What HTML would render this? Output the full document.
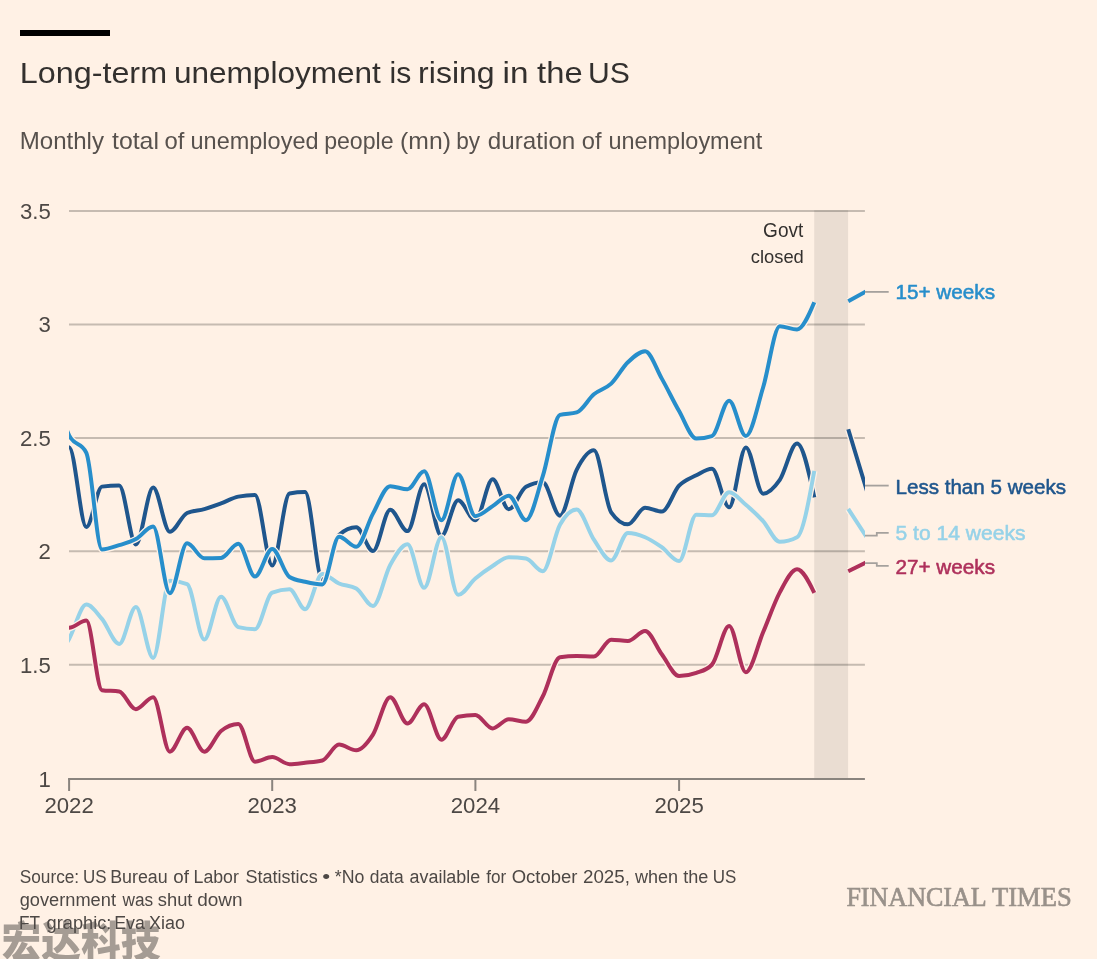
<!DOCTYPE html>
<html lang="en"><head><meta charset="utf-8"><title>Long-term unemployment is rising in the US</title>
<style>
html,body{margin:0;padding:0;background:#fff1e5;}
body{width:1097px;height:959px;overflow:hidden;position:relative;font-family:"Liberation Sans","Noto Sans CJK SC",sans-serif;}
svg{position:absolute;left:0;top:0;display:block;}
svg text{font-family:"Liberation Sans","Noto Sans CJK SC",sans-serif;}
.wm{font-family:"Noto Sans CJK SC","WenQuanYi Zen Hei",sans-serif;}
text.ft{font-family:"Liberation Serif",serif;}
</style></head><body>
<svg width="1097" height="959" viewBox="0 0 1097 959">
<rect width="1097" height="959" fill="#fff1e5"/>
<rect x="20" y="30" width="90" height="6" fill="#000"/>
<text font-size="29.5" fill="#33302e" y="82.6"><tspan x="19.86" textLength="147.17" lengthAdjust="spacingAndGlyphs">Long-term</tspan> <tspan x="173.96" textLength="206.91" lengthAdjust="spacingAndGlyphs">unemployment</tspan> <tspan x="389.44" textLength="21.76" lengthAdjust="spacingAndGlyphs">is</tspan> <tspan x="418.13" textLength="76.54" lengthAdjust="spacingAndGlyphs">rising</tspan> <tspan x="502.57" textLength="25.92" lengthAdjust="spacingAndGlyphs">in</tspan> <tspan x="537.14" textLength="45.56" lengthAdjust="spacingAndGlyphs">the</tspan> <tspan x="588.11" textLength="41.84" lengthAdjust="spacingAndGlyphs">US</tspan></text>
<text font-size="23.8" fill="#57514d" y="149.2"><tspan x="19.78" textLength="84.2" lengthAdjust="spacingAndGlyphs">Monthly</tspan> <tspan x="112.04" textLength="46.91" lengthAdjust="spacingAndGlyphs">total</tspan> <tspan x="164.5" textLength="19.86" lengthAdjust="spacingAndGlyphs">of</tspan> <tspan x="190.52" textLength="128.02" lengthAdjust="spacingAndGlyphs">unemployed</tspan> <tspan x="324.14" textLength="69.5" lengthAdjust="spacingAndGlyphs">people</tspan> <tspan x="400.14" textLength="50.84" lengthAdjust="spacingAndGlyphs">(mn)</tspan> <tspan x="456.34" textLength="23.83" lengthAdjust="spacingAndGlyphs">by</tspan> <tspan x="487.88" textLength="87.44" lengthAdjust="spacingAndGlyphs">duration</tspan> <tspan x="581.81" textLength="19.75" lengthAdjust="spacingAndGlyphs">of</tspan> <tspan x="608.42" textLength="153.87" lengthAdjust="spacingAndGlyphs">unemployment</tspan></text>
<g><line x1="69" x2="864.9" y1="211.0" y2="211.0" stroke="#c6bbb1" stroke-width="2"/>
<line x1="69" x2="864.9" y1="324.4" y2="324.4" stroke="#c6bbb1" stroke-width="2"/>
<line x1="69" x2="864.9" y1="437.9" y2="437.9" stroke="#c6bbb1" stroke-width="2"/>
<line x1="69" x2="864.9" y1="551.3" y2="551.3" stroke="#c6bbb1" stroke-width="2"/>
<line x1="69" x2="864.9" y1="664.8" y2="664.8" stroke="#c6bbb1" stroke-width="2"/>
</g>
<rect x="814.2" y="210.2" width="33.9" height="568.5" fill="#000" fill-opacity="0.082"/>
<line x1="68.1" x2="864.9" y1="779.1" y2="779.1" stroke="#8a847e" stroke-width="2"/>
<line x1="69.1" x2="69.1" y1="778.5" y2="791" stroke="#8a847e" stroke-width="2"/>
<text x="69.1" y="813.0" font-size="22.2" fill="#4d4845" text-anchor="middle" font-weight="400">2022</text>
<line x1="272.2" x2="272.2" y1="778.5" y2="791" stroke="#8a847e" stroke-width="2"/>
<text x="272.2" y="813.0" font-size="22.2" fill="#4d4845" text-anchor="middle" font-weight="400">2023</text>
<line x1="475.4" x2="475.4" y1="778.5" y2="791" stroke="#8a847e" stroke-width="2"/>
<text x="475.4" y="813.0" font-size="22.2" fill="#4d4845" text-anchor="middle" font-weight="400">2024</text>
<line x1="679.1" x2="679.1" y1="778.5" y2="791" stroke="#8a847e" stroke-width="2"/>
<text x="679.1" y="813.0" font-size="22.2" fill="#4d4845" text-anchor="middle" font-weight="400">2025</text>
<text x="50.8" y="218.95000000000005" font-size="22.2" fill="#4d4845" text-anchor="end" font-weight="400">3.5</text>
<text x="50.8" y="332.40000000000003" font-size="22.2" fill="#4d4845" text-anchor="end" font-weight="400">3</text>
<text x="50.8" y="445.85" font-size="22.2" fill="#4d4845" text-anchor="end" font-weight="400">2.5</text>
<text x="50.8" y="559.3000000000001" font-size="22.2" fill="#4d4845" text-anchor="end" font-weight="400">2</text>
<text x="50.8" y="672.75" font-size="22.2" fill="#4d4845" text-anchor="end" font-weight="400">1.5</text>
<text x="50.8" y="787.2" font-size="22.2" fill="#4d4845" text-anchor="end" font-weight="400">1</text>
<text font-size="19.3" fill="#33302e" y="236.6"><tspan x="763.11" textLength="40.2" lengthAdjust="spacingAndGlyphs">Govt</tspan></text>
<text font-size="18.5" fill="#33302e" y="262.6"><tspan x="750.76" textLength="53.07" lengthAdjust="spacingAndGlyphs">closed</tspan></text>
<g fill="none" stroke="#a5a19d" stroke-width="1.8">
<path d="M864.9,291.9H888.7"/>
<path d="M864.9,485.6H888.7"/>
<path d="M864.9,535.6H876.8V532.8H888.7"/>
<path d="M864.9,563.2H876.8V565.8H888.7"/>
</g>
<clipPath id="cp"><rect x="69" y="150" width="795.9" height="700"/></clipPath>
<g clip-path="url(#cp)">
<path d="M51.85,551.30C57.60,499.23,63.35,447.15,69.10,447.15C74.85,447.15,80.60,527.02,86.35,527.02C91.55,527.02,96.74,487.32,101.94,486.63C107.69,485.88,113.44,485.50,119.19,485.50C124.75,485.50,130.32,544.49,135.88,544.49C141.63,544.49,147.39,487.54,153.14,487.54C158.70,487.54,164.27,531.79,169.83,531.79C175.58,531.79,181.33,515.53,187.08,512.95C192.84,510.38,198.59,510.72,204.34,509.10C209.90,507.52,215.47,505.46,221.03,503.42C226.78,501.32,232.53,497.71,238.29,496.62C243.85,495.56,249.42,495.03,254.98,495.03C260.73,495.03,266.48,565.48,272.23,565.48C277.98,565.48,283.74,494.45,289.49,493.44C294.68,492.53,299.87,492.08,305.07,492.08C310.82,492.08,316.57,579.44,322.32,579.44C327.89,579.44,333.45,539.94,339.02,534.96C344.77,529.82,350.52,527.25,356.27,527.25C361.83,527.25,367.40,551.07,372.97,551.07C378.72,551.07,384.47,509.78,390.22,509.78C395.97,509.78,401.72,531.11,407.47,531.11C413.04,531.11,418.60,484.36,424.17,484.36C429.92,484.36,435.67,536.10,441.42,536.10C446.98,536.10,452.55,500.25,458.11,500.25C463.87,500.25,469.62,520.21,475.37,520.21C481.12,520.21,486.87,479.37,492.62,479.37C498.00,479.37,503.38,509.32,508.76,509.32C514.51,509.32,520.26,489.99,526.01,486.86C531.58,483.84,537.14,482.32,542.71,482.32C548.46,482.32,554.21,515.68,559.96,515.68C565.52,515.68,571.09,480.70,576.66,469.84C582.41,458.62,588.16,450.33,593.91,450.33C599.66,450.33,605.41,503.99,611.16,512.27C616.73,520.29,622.29,524.30,627.86,524.30C633.61,524.30,639.36,507.74,645.11,507.74C650.67,507.74,656.24,511.59,661.80,511.59C667.56,511.59,673.31,491.78,679.06,485.73C684.81,479.68,690.56,478.22,696.31,475.29C701.50,472.64,706.70,468.71,711.89,468.71C717.64,468.71,723.39,507.28,729.14,507.28C734.71,507.28,740.28,447.38,745.84,447.38C751.59,447.38,757.34,493.67,763.09,493.67C768.66,493.67,774.22,487.93,779.79,479.83C785.54,471.45,791.29,443.52,797.04,443.52C802.79,443.52,808.54,470.41,814.29,497.30M848.24,429.23L867.94,494.27" fill="none" stroke="#fff1e5" stroke-width="6.5" stroke-linejoin="round"/>
<path d="M51.85,551.30C57.60,499.23,63.35,447.15,69.10,447.15C74.85,447.15,80.60,527.02,86.35,527.02C91.55,527.02,96.74,487.32,101.94,486.63C107.69,485.88,113.44,485.50,119.19,485.50C124.75,485.50,130.32,544.49,135.88,544.49C141.63,544.49,147.39,487.54,153.14,487.54C158.70,487.54,164.27,531.79,169.83,531.79C175.58,531.79,181.33,515.53,187.08,512.95C192.84,510.38,198.59,510.72,204.34,509.10C209.90,507.52,215.47,505.46,221.03,503.42C226.78,501.32,232.53,497.71,238.29,496.62C243.85,495.56,249.42,495.03,254.98,495.03C260.73,495.03,266.48,565.48,272.23,565.48C277.98,565.48,283.74,494.45,289.49,493.44C294.68,492.53,299.87,492.08,305.07,492.08C310.82,492.08,316.57,579.44,322.32,579.44C327.89,579.44,333.45,539.94,339.02,534.96C344.77,529.82,350.52,527.25,356.27,527.25C361.83,527.25,367.40,551.07,372.97,551.07C378.72,551.07,384.47,509.78,390.22,509.78C395.97,509.78,401.72,531.11,407.47,531.11C413.04,531.11,418.60,484.36,424.17,484.36C429.92,484.36,435.67,536.10,441.42,536.10C446.98,536.10,452.55,500.25,458.11,500.25C463.87,500.25,469.62,520.21,475.37,520.21C481.12,520.21,486.87,479.37,492.62,479.37C498.00,479.37,503.38,509.32,508.76,509.32C514.51,509.32,520.26,489.99,526.01,486.86C531.58,483.84,537.14,482.32,542.71,482.32C548.46,482.32,554.21,515.68,559.96,515.68C565.52,515.68,571.09,480.70,576.66,469.84C582.41,458.62,588.16,450.33,593.91,450.33C599.66,450.33,605.41,503.99,611.16,512.27C616.73,520.29,622.29,524.30,627.86,524.30C633.61,524.30,639.36,507.74,645.11,507.74C650.67,507.74,656.24,511.59,661.80,511.59C667.56,511.59,673.31,491.78,679.06,485.73C684.81,479.68,690.56,478.22,696.31,475.29C701.50,472.64,706.70,468.71,711.89,468.71C717.64,468.71,723.39,507.28,729.14,507.28C734.71,507.28,740.28,447.38,745.84,447.38C751.59,447.38,757.34,493.67,763.09,493.67C768.66,493.67,774.22,487.93,779.79,479.83C785.54,471.45,791.29,443.52,797.04,443.52C802.79,443.52,808.54,470.41,814.29,497.30M848.24,429.23L867.94,494.27" fill="none" stroke="#1f568d" stroke-width="4" stroke-linejoin="round"/>
<path d="M51.85,664.75C57.60,656.83,63.35,648.90,69.10,638.88C74.85,628.86,80.60,604.62,86.35,604.62C91.55,604.62,96.74,612.85,101.94,618.92C107.69,625.64,113.44,643.88,119.19,643.88C124.75,643.88,130.32,607.12,135.88,607.12C141.63,607.12,147.39,657.94,153.14,657.94C158.70,657.94,164.27,580.80,169.83,580.80C175.58,580.80,181.33,581.93,187.08,584.20C192.84,586.47,198.59,639.56,204.34,639.56C209.90,639.56,215.47,596.68,221.03,596.68C226.78,596.68,232.53,625.68,238.29,627.08C243.85,628.45,249.42,629.13,254.98,629.13C260.73,629.13,266.48,594.86,272.23,592.60C277.98,590.33,283.74,589.19,289.49,589.19C294.68,589.19,299.87,609.16,305.07,609.16C310.82,609.16,316.57,573.99,322.32,573.99C327.89,573.99,333.45,581.11,339.02,583.52C344.77,586.01,350.52,585.18,356.27,588.51C361.83,591.73,367.40,605.98,372.97,605.98C378.72,605.98,384.47,575.20,390.22,564.91C395.97,554.63,401.72,544.27,407.47,544.27C413.04,544.27,418.60,587.83,424.17,587.83C429.92,587.83,435.67,537.23,441.42,537.23C446.98,537.23,452.55,594.86,458.11,594.86C463.87,594.86,469.62,583.33,475.37,578.53C481.12,573.73,486.87,569.69,492.62,566.05C498.00,562.64,503.38,557.20,508.76,557.20C514.51,557.20,520.26,557.65,526.01,558.56C531.58,559.44,537.14,571.27,542.71,571.27C548.46,571.27,554.21,535.04,559.96,524.75C565.52,514.80,571.09,509.55,576.66,509.55C582.41,509.55,588.16,531.26,593.91,539.73C599.66,548.20,605.41,560.38,611.16,560.38C616.73,560.38,622.29,532.92,627.86,532.92C633.61,532.92,639.36,534.78,645.11,537.23C650.67,539.61,656.24,543.33,661.80,547.22C667.56,551.23,673.31,561.06,679.06,561.06C684.81,561.06,690.56,514.77,696.31,514.77C701.50,514.77,706.70,515.22,711.89,515.22C717.64,515.22,723.39,492.31,729.14,492.31C734.71,492.31,740.28,500.08,745.84,504.79C751.59,509.65,757.34,514.83,763.09,521.12C768.66,527.21,774.22,541.77,779.79,541.77C785.54,541.77,791.29,540.26,797.04,537.23C802.79,534.21,808.54,502.59,814.29,470.98M848.24,508.87L867.94,539.12" fill="none" stroke="#fff1e5" stroke-width="6.5" stroke-linejoin="round"/>
<path d="M51.85,664.75C57.60,656.83,63.35,648.90,69.10,638.88C74.85,628.86,80.60,604.62,86.35,604.62C91.55,604.62,96.74,612.85,101.94,618.92C107.69,625.64,113.44,643.88,119.19,643.88C124.75,643.88,130.32,607.12,135.88,607.12C141.63,607.12,147.39,657.94,153.14,657.94C158.70,657.94,164.27,580.80,169.83,580.80C175.58,580.80,181.33,581.93,187.08,584.20C192.84,586.47,198.59,639.56,204.34,639.56C209.90,639.56,215.47,596.68,221.03,596.68C226.78,596.68,232.53,625.68,238.29,627.08C243.85,628.45,249.42,629.13,254.98,629.13C260.73,629.13,266.48,594.86,272.23,592.60C277.98,590.33,283.74,589.19,289.49,589.19C294.68,589.19,299.87,609.16,305.07,609.16C310.82,609.16,316.57,573.99,322.32,573.99C327.89,573.99,333.45,581.11,339.02,583.52C344.77,586.01,350.52,585.18,356.27,588.51C361.83,591.73,367.40,605.98,372.97,605.98C378.72,605.98,384.47,575.20,390.22,564.91C395.97,554.63,401.72,544.27,407.47,544.27C413.04,544.27,418.60,587.83,424.17,587.83C429.92,587.83,435.67,537.23,441.42,537.23C446.98,537.23,452.55,594.86,458.11,594.86C463.87,594.86,469.62,583.33,475.37,578.53C481.12,573.73,486.87,569.69,492.62,566.05C498.00,562.64,503.38,557.20,508.76,557.20C514.51,557.20,520.26,557.65,526.01,558.56C531.58,559.44,537.14,571.27,542.71,571.27C548.46,571.27,554.21,535.04,559.96,524.75C565.52,514.80,571.09,509.55,576.66,509.55C582.41,509.55,588.16,531.26,593.91,539.73C599.66,548.20,605.41,560.38,611.16,560.38C616.73,560.38,622.29,532.92,627.86,532.92C633.61,532.92,639.36,534.78,645.11,537.23C650.67,539.61,656.24,543.33,661.80,547.22C667.56,551.23,673.31,561.06,679.06,561.06C684.81,561.06,690.56,514.77,696.31,514.77C701.50,514.77,706.70,515.22,711.89,515.22C717.64,515.22,723.39,492.31,729.14,492.31C734.71,492.31,740.28,500.08,745.84,504.79C751.59,509.65,757.34,514.83,763.09,521.12C768.66,527.21,774.22,541.77,779.79,541.77C785.54,541.77,791.29,540.26,797.04,537.23C802.79,534.21,808.54,502.59,814.29,470.98M848.24,508.87L867.94,539.12" fill="none" stroke="#96d2e8" stroke-width="4" stroke-linejoin="round"/>
<path d="M51.85,378.86C57.60,401.28,63.35,423.71,69.10,435.35C74.85,447.00,80.60,441.18,86.35,452.83C91.55,463.35,96.74,549.48,101.94,549.48C107.69,549.48,113.44,546.95,119.19,545.17C124.75,543.45,130.32,542.07,135.88,539.05C141.63,535.93,147.39,526.57,153.14,526.57C158.70,526.57,164.27,593.28,169.83,593.28C175.58,593.28,181.33,543.36,187.08,543.36C192.84,543.36,198.59,558.33,204.34,558.33C209.90,558.33,215.47,558.18,221.03,557.88C226.78,557.57,232.53,543.81,238.29,543.81C243.85,543.81,249.42,576.49,254.98,576.49C260.73,576.49,266.48,549.03,272.23,549.03C277.98,549.03,283.74,573.42,289.49,576.94C294.68,580.12,299.87,580.48,305.07,581.70C310.82,583.06,316.57,584.43,322.32,584.43C327.89,584.43,333.45,536.78,339.02,536.78C344.77,536.78,350.52,546.76,356.27,546.76C361.83,546.76,367.40,523.60,372.97,513.63C378.72,503.33,384.47,486.18,390.22,486.18C395.97,486.18,401.72,489.36,407.47,489.36C413.04,489.36,418.60,471.20,424.17,471.20C429.92,471.20,435.67,520.21,441.42,520.21C446.98,520.21,452.55,474.15,458.11,474.15C463.87,474.15,469.62,516.13,475.37,516.13C481.12,516.13,486.87,509.68,492.62,506.15C498.00,502.84,503.38,495.71,508.76,495.71C514.51,495.71,520.26,520.21,526.01,520.21C531.58,520.21,537.14,493.60,542.71,476.42C548.46,458.68,554.21,416.65,559.96,414.93C565.52,413.27,571.09,414.10,576.66,412.44C582.41,410.72,588.16,399.09,593.91,394.29C599.66,389.48,605.41,389.10,611.16,383.62C616.73,378.32,622.29,367.67,627.86,362.29C633.61,356.74,639.36,351.17,645.11,351.17C650.67,351.17,656.24,368.83,661.80,378.63C667.56,388.75,673.31,401.09,679.06,411.08C684.81,421.06,690.56,438.53,696.31,438.53C701.50,438.53,706.70,437.70,711.89,436.03C717.64,434.19,723.39,400.64,729.14,400.64C734.71,400.64,740.28,436.03,745.84,436.03C751.59,436.03,757.34,406.16,763.09,387.48C768.66,369.40,774.22,326.22,779.79,326.22C785.54,326.22,791.29,329.39,797.04,329.39C802.79,329.39,808.54,315.78,814.29,302.16M848.24,301.26L867.94,290.28" fill="none" stroke="#fff1e5" stroke-width="6.5" stroke-linejoin="round"/>
<path d="M51.85,378.86C57.60,401.28,63.35,423.71,69.10,435.35C74.85,447.00,80.60,441.18,86.35,452.83C91.55,463.35,96.74,549.48,101.94,549.48C107.69,549.48,113.44,546.95,119.19,545.17C124.75,543.45,130.32,542.07,135.88,539.05C141.63,535.93,147.39,526.57,153.14,526.57C158.70,526.57,164.27,593.28,169.83,593.28C175.58,593.28,181.33,543.36,187.08,543.36C192.84,543.36,198.59,558.33,204.34,558.33C209.90,558.33,215.47,558.18,221.03,557.88C226.78,557.57,232.53,543.81,238.29,543.81C243.85,543.81,249.42,576.49,254.98,576.49C260.73,576.49,266.48,549.03,272.23,549.03C277.98,549.03,283.74,573.42,289.49,576.94C294.68,580.12,299.87,580.48,305.07,581.70C310.82,583.06,316.57,584.43,322.32,584.43C327.89,584.43,333.45,536.78,339.02,536.78C344.77,536.78,350.52,546.76,356.27,546.76C361.83,546.76,367.40,523.60,372.97,513.63C378.72,503.33,384.47,486.18,390.22,486.18C395.97,486.18,401.72,489.36,407.47,489.36C413.04,489.36,418.60,471.20,424.17,471.20C429.92,471.20,435.67,520.21,441.42,520.21C446.98,520.21,452.55,474.15,458.11,474.15C463.87,474.15,469.62,516.13,475.37,516.13C481.12,516.13,486.87,509.68,492.62,506.15C498.00,502.84,503.38,495.71,508.76,495.71C514.51,495.71,520.26,520.21,526.01,520.21C531.58,520.21,537.14,493.60,542.71,476.42C548.46,458.68,554.21,416.65,559.96,414.93C565.52,413.27,571.09,414.10,576.66,412.44C582.41,410.72,588.16,399.09,593.91,394.29C599.66,389.48,605.41,389.10,611.16,383.62C616.73,378.32,622.29,367.67,627.86,362.29C633.61,356.74,639.36,351.17,645.11,351.17C650.67,351.17,656.24,368.83,661.80,378.63C667.56,388.75,673.31,401.09,679.06,411.08C684.81,421.06,690.56,438.53,696.31,438.53C701.50,438.53,706.70,437.70,711.89,436.03C717.64,434.19,723.39,400.64,729.14,400.64C734.71,400.64,740.28,436.03,745.84,436.03C751.59,436.03,757.34,406.16,763.09,387.48C768.66,369.40,774.22,326.22,779.79,326.22C785.54,326.22,791.29,329.39,797.04,329.39C802.79,329.39,808.54,315.78,814.29,302.16M848.24,301.26L867.94,290.28" fill="none" stroke="#278ecb" stroke-width="4" stroke-linejoin="round"/>
<path d="M51.85,551.30C57.60,589.53,63.35,627.77,69.10,627.77C74.85,627.77,80.60,620.50,86.35,620.50C91.55,620.50,96.74,689.34,101.94,690.16C107.69,691.07,113.44,690.62,119.19,691.52C124.75,692.40,130.32,709.22,135.88,709.22C141.63,709.22,147.39,697.20,153.14,697.20C158.70,697.20,164.27,751.65,169.83,751.65C175.58,751.65,181.33,727.83,187.08,727.83C192.84,727.83,198.59,751.65,204.34,751.65C209.90,751.65,215.47,735.54,221.03,731.00C226.78,726.32,232.53,723.97,238.29,723.97C243.85,723.97,249.42,761.64,254.98,761.64C260.73,761.64,266.48,757.10,272.23,757.10C277.98,757.10,283.74,764.13,289.49,764.13C294.68,764.13,299.87,763.33,305.07,762.77C310.82,762.15,316.57,762.01,322.32,760.50C327.89,759.04,333.45,744.62,339.02,744.62C344.77,744.62,350.52,750.29,356.27,750.29C361.83,750.29,367.40,743.23,372.97,734.64C378.72,725.76,384.47,697.20,390.22,697.20C395.97,697.20,401.72,723.52,407.47,723.52C413.04,723.52,418.60,704.23,424.17,704.23C429.92,704.23,435.67,739.63,441.42,739.63C446.98,739.63,452.55,717.73,458.11,716.71C463.87,715.65,469.62,715.12,475.37,715.12C481.12,715.12,486.87,728.51,492.62,728.51C498.00,728.51,503.38,719.21,508.76,719.21C514.51,719.21,520.26,721.70,526.01,721.70C531.58,721.70,537.14,707.01,542.71,696.52C548.46,685.67,554.21,658.20,559.96,657.26C565.52,656.35,571.09,655.90,576.66,655.90C582.41,655.90,588.16,656.58,593.91,656.58C599.66,656.58,605.41,639.79,611.16,639.79C616.73,639.79,622.29,640.93,627.86,640.93C633.61,640.93,639.36,630.94,645.11,630.94C650.67,630.94,656.24,646.90,661.80,654.31C667.56,661.97,673.31,676.10,679.06,676.10C684.81,676.10,690.56,675.00,696.31,672.92C701.50,671.03,706.70,670.20,711.89,664.75C717.64,658.72,723.39,625.95,729.14,625.95C734.71,625.95,740.28,672.24,745.84,672.24C751.59,672.24,757.34,645.84,763.09,632.30C768.66,619.20,774.22,602.81,779.79,592.37C785.54,581.58,791.29,569.23,797.04,569.23C802.79,569.23,808.54,581.02,814.29,592.82M848.24,571.27L867.94,561.63" fill="none" stroke="#fff1e5" stroke-width="6.5" stroke-linejoin="round"/>
<path d="M51.85,551.30C57.60,589.53,63.35,627.77,69.10,627.77C74.85,627.77,80.60,620.50,86.35,620.50C91.55,620.50,96.74,689.34,101.94,690.16C107.69,691.07,113.44,690.62,119.19,691.52C124.75,692.40,130.32,709.22,135.88,709.22C141.63,709.22,147.39,697.20,153.14,697.20C158.70,697.20,164.27,751.65,169.83,751.65C175.58,751.65,181.33,727.83,187.08,727.83C192.84,727.83,198.59,751.65,204.34,751.65C209.90,751.65,215.47,735.54,221.03,731.00C226.78,726.32,232.53,723.97,238.29,723.97C243.85,723.97,249.42,761.64,254.98,761.64C260.73,761.64,266.48,757.10,272.23,757.10C277.98,757.10,283.74,764.13,289.49,764.13C294.68,764.13,299.87,763.33,305.07,762.77C310.82,762.15,316.57,762.01,322.32,760.50C327.89,759.04,333.45,744.62,339.02,744.62C344.77,744.62,350.52,750.29,356.27,750.29C361.83,750.29,367.40,743.23,372.97,734.64C378.72,725.76,384.47,697.20,390.22,697.20C395.97,697.20,401.72,723.52,407.47,723.52C413.04,723.52,418.60,704.23,424.17,704.23C429.92,704.23,435.67,739.63,441.42,739.63C446.98,739.63,452.55,717.73,458.11,716.71C463.87,715.65,469.62,715.12,475.37,715.12C481.12,715.12,486.87,728.51,492.62,728.51C498.00,728.51,503.38,719.21,508.76,719.21C514.51,719.21,520.26,721.70,526.01,721.70C531.58,721.70,537.14,707.01,542.71,696.52C548.46,685.67,554.21,658.20,559.96,657.26C565.52,656.35,571.09,655.90,576.66,655.90C582.41,655.90,588.16,656.58,593.91,656.58C599.66,656.58,605.41,639.79,611.16,639.79C616.73,639.79,622.29,640.93,627.86,640.93C633.61,640.93,639.36,630.94,645.11,630.94C650.67,630.94,656.24,646.90,661.80,654.31C667.56,661.97,673.31,676.10,679.06,676.10C684.81,676.10,690.56,675.00,696.31,672.92C701.50,671.03,706.70,670.20,711.89,664.75C717.64,658.72,723.39,625.95,729.14,625.95C734.71,625.95,740.28,672.24,745.84,672.24C751.59,672.24,757.34,645.84,763.09,632.30C768.66,619.20,774.22,602.81,779.79,592.37C785.54,581.58,791.29,569.23,797.04,569.23C802.79,569.23,808.54,581.02,814.29,592.82M848.24,571.27L867.94,561.63" fill="none" stroke="#ae305b" stroke-width="4" stroke-linejoin="round"/>
</g>

<text x="895.5" y="299.3" font-size="21" fill="#278ecb" text-anchor="start" font-weight="400" textLength="99.5" lengthAdjust="spacingAndGlyphs" stroke="#278ecb" stroke-width="0.55" stroke-linejoin="round">15+ weeks</text>
<text x="895.5" y="493.5" font-size="21" fill="#1f568d" text-anchor="start" font-weight="400" textLength="170.5" lengthAdjust="spacingAndGlyphs" stroke="#1f568d" stroke-width="0.55" stroke-linejoin="round">Less than 5 weeks</text>
<text x="895.5" y="540.1" font-size="21" fill="#96d2e8" text-anchor="start" font-weight="400" textLength="130" lengthAdjust="spacingAndGlyphs" stroke="#96d2e8" stroke-width="0.55" stroke-linejoin="round">5 to 14 weeks</text>
<text x="895.5" y="573.5" font-size="21" fill="#ae305b" text-anchor="start" font-weight="400" textLength="99.5" lengthAdjust="spacingAndGlyphs" stroke="#ae305b" stroke-width="0.55" stroke-linejoin="round">27+ weeks</text>
<text class="wm" x="1.5" y="956.5" font-size="42" font-weight="900" fill="#a59c94" textLength="159" lengthAdjust="spacingAndGlyphs">宏达科技</text>
<text font-size="18" fill="#4d4845" y="882.6"><tspan x="19.78" textLength="59.4" lengthAdjust="spacingAndGlyphs">Source:</tspan> <tspan x="83.01" textLength="23.58" lengthAdjust="spacingAndGlyphs">US</tspan> <tspan x="110.21" textLength="57.47" lengthAdjust="spacingAndGlyphs">Bureau</tspan> <tspan x="173.3" textLength="15.64" lengthAdjust="spacingAndGlyphs">of</tspan> <tspan x="193.52" textLength="45.37" lengthAdjust="spacingAndGlyphs">Labor</tspan> <tspan x="245.45" textLength="72.24" lengthAdjust="spacingAndGlyphs">Statistics</tspan> <tspan x="322.39" textLength="7.89" lengthAdjust="spacingAndGlyphs">•</tspan> <tspan x="334.75" textLength="29.6" lengthAdjust="spacingAndGlyphs">*No</tspan> <tspan x="369.78" textLength="33.87" lengthAdjust="spacingAndGlyphs">data</tspan> <tspan x="409.55" textLength="70.65" lengthAdjust="spacingAndGlyphs">available</tspan> <tspan x="486.16" textLength="19.99" lengthAdjust="spacingAndGlyphs">for</tspan> <tspan x="511.73" textLength="65.76" lengthAdjust="spacingAndGlyphs">October</tspan> <tspan x="582.97" textLength="46.93" lengthAdjust="spacingAndGlyphs">2025,</tspan> <tspan x="634.9" textLength="43.08" lengthAdjust="spacingAndGlyphs">when</tspan> <tspan x="683.25" textLength="25.14" lengthAdjust="spacingAndGlyphs">the</tspan> <tspan x="712.81" textLength="23.58" lengthAdjust="spacingAndGlyphs">US</tspan></text>
<text font-size="18" fill="#4d4845" y="906.1"><tspan x="19.74" textLength="96.22" lengthAdjust="spacingAndGlyphs">government</tspan> <tspan x="122.44" textLength="30.65" lengthAdjust="spacingAndGlyphs">was</tspan> <tspan x="157.79" textLength="34.7" lengthAdjust="spacingAndGlyphs">shut</tspan> <tspan x="197.21" textLength="45.34" lengthAdjust="spacingAndGlyphs">down</tspan></text>
<text font-size="18" fill="#4d4845" y="929.1"><tspan x="19.06" textLength="20.74" lengthAdjust="spacingAndGlyphs">FT</tspan> <tspan x="46.64" textLength="64.82" lengthAdjust="spacingAndGlyphs">graphic:</tspan> <tspan x="114.22" textLength="30.72" lengthAdjust="spacingAndGlyphs">Eva</tspan> <tspan x="149.0" textLength="35.88" lengthAdjust="spacingAndGlyphs">Xiao</tspan></text>
<text font-size="27.2" fill="#99918a" y="905.6" class="ft" stroke="#99918a" stroke-width="0.65"><tspan x="846.39" textLength="139.39" lengthAdjust="spacingAndGlyphs">FINANCIAL</tspan> <tspan x="991.91" textLength="79.76" lengthAdjust="spacingAndGlyphs">TIMES</tspan></text>
</svg>
</body></html>
